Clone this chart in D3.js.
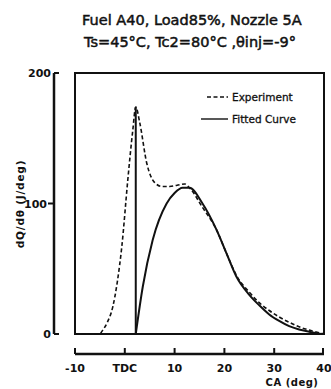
<!DOCTYPE html>
<html>
<head>
<meta charset="utf-8">
<script src="https://cdn.jsdelivr.net/npm/d3@7"></script>
<style>
body{margin:0;background:#fff}
text{font-family:"DejaVu Sans",sans-serif;fill:#111}
</style>
</head>
<body>
<script>
// experiment (dashed)
const expCA  = [-10,-5,-4.6,-3.5,-2.4,-1.5,-0.6,0.6,1.6,2.2,3.0,4.4,6,7.5,9,10.5,12,13,15.6,18.4,20.4,22.4,25,27,29,31,33,35,37,40]
const expVal = [0,0,2,9,21,40,67,118,156,174,162,131,116,113,113,114,115,112,97,80,62,45,32,24,18,13,9,5.5,3,0]

// fitted curve (solid)
const fitCA  = [2.2,3.6,5.6,8.4,10,11.6,13,15.6,18.4,20.4,22.4,25,27,29,31,33,35,37,39.5]
const fitVal = [0,36,72,100,108,112,112,100,80,62,44,30,22,15,10,6,3.5,1.8,0]
const spikeCA = [2.2,2.2]
const spikeVal = [0,174]

const xTicks = [-10,0,10,20,30,40]
const xTickLabels = ["-10","TDC","10","20","30","40"]
const yTicks = [0,100,200]

const svg=d3.select("body")
            .append("svg")
            .attr("width",331)
            .attr("height",389)

const x=d3.scaleLinear().domain([-10,40]).range([75,324])
const y=d3.scaleLinear().domain([0,200]).range([334,73])

// title
svg.append("text").attr("x",82).attr("y",25).text("Fuel A40, Load85%, Nozzle 5A")
   .attr("font-size","14.5px").attr("stroke","#111").attr("stroke-width",0.5)
svg.append("text").attr("x",84).attr("y",47).text("Ts=45°C, Tc2=80°C ,θinj=-9°")
   .attr("font-size","14.5px").attr("stroke","#111").attr("stroke-width",0.5)

// frame
svg.append("rect").attr("x",x(-10)).attr("y",y(200))
   .attr("width",x(40)-x(-10)).attr("height",y(0)-y(200))
   .attr("fill","none").attr("stroke","#111").attr("stroke-width",2)

// y axis (detached)
const ya=svg.append("g")
ya.append("line").attr("x1",54).attr("x2",54).attr("y1",y(200)).attr("y2",y(0))
  .attr("stroke","#111").attr("stroke-width",2.5)
ya.selectAll(".tk").data(yTicks).enter().append("line")
  .attr("x1",d=>d==100?48:54).attr("x2",d=>d==100?54:59)
  .attr("y1",d=>y(d)).attr("y2",d=>y(d))
  .attr("stroke","#111").attr("stroke-width",2)
ya.selectAll(".lb").data(yTicks).enter().append("text")
  .attr("x",d=>d==100?47:51).attr("y",d=>y(d)+4)
  .attr("text-anchor","end").attr("font-size","11px").attr("font-weight","bold")
  .text(d=>d)
svg.append("text").attr("transform","translate(24,204) rotate(-90)")
   .attr("text-anchor","middle").attr("font-size","10.5px").attr("font-weight","bold")
   .attr("letter-spacing","0.8px")
   .text("dQ/dθ (J/deg)")

// x axis (detached)
const xa=svg.append("g")
xa.append("line").attr("x1",x(-10)).attr("x2",x(40)).attr("y1",354).attr("y2",354)
  .attr("stroke","#111").attr("stroke-width",2.5)
xa.selectAll(".tk").data(xTicks).enter().append("line")
  .attr("x1",d=>d==40?x(d)-1:x(d)).attr("x2",d=>d==40?x(d)-1:x(d)).attr("y1",348).attr("y2",354)
  .attr("stroke","#111").attr("stroke-width",2)
xa.selectAll(".lb").data(xTicks).enter().append("text")
  .attr("x",d=>x(d)).attr("y",372)
  .attr("text-anchor","middle").attr("font-size","11px").attr("font-weight","bold")
  .text((d,i)=>xTickLabels[i])
svg.append("text").attr("x",292).attr("y",386).attr("text-anchor","middle")
   .attr("font-size","10px").attr("font-weight","bold").attr("letter-spacing","0.5px")
   .text("CA (deg)")

const line=d3.line().x(d=>x(d[0])).y(d=>y(d[1])).curve(d3.curveMonotoneX)

svg.append("path").datum(expCA.map((c,i)=>[c,expVal[i]]))
   .attr("d",line).attr("fill","none").attr("stroke","#111")
   .attr("stroke-width",1.6).attr("stroke-dasharray","4,2.5")

svg.append("path").datum(fitCA.map((c,i)=>[c,fitVal[i]]))
   .attr("d",line).attr("fill","none").attr("stroke","#111").attr("stroke-width",2)

svg.append("path").datum(spikeCA.map((c,i)=>[c,spikeVal[i]]))
   .attr("d",d3.line().x(d=>x(d[0])).y(d=>y(d[1])))
   .attr("fill","none").attr("stroke","#111").attr("stroke-width",2)

// legend
const lg=svg.append("g")
lg.append("line").attr("x1",207).attr("x2",228).attr("y1",97).attr("y2",97)
  .attr("stroke","#111").attr("stroke-width",1.4).attr("stroke-dasharray","4,2.5")
lg.append("text").attr("x",232).attr("y",101).attr("font-size","10.5px")
  .attr("stroke","#111").attr("stroke-width",0.3).text("Experiment")
lg.append("line").attr("x1",201).attr("x2",228).attr("y1",119).attr("y2",119)
  .attr("stroke","#111").attr("stroke-width",1.4)
lg.append("text").attr("x",232).attr("y",123).attr("font-size","10.5px")
  .attr("stroke","#111").attr("stroke-width",0.3).text("Fitted Curve")
</script>
</body>
</html>
